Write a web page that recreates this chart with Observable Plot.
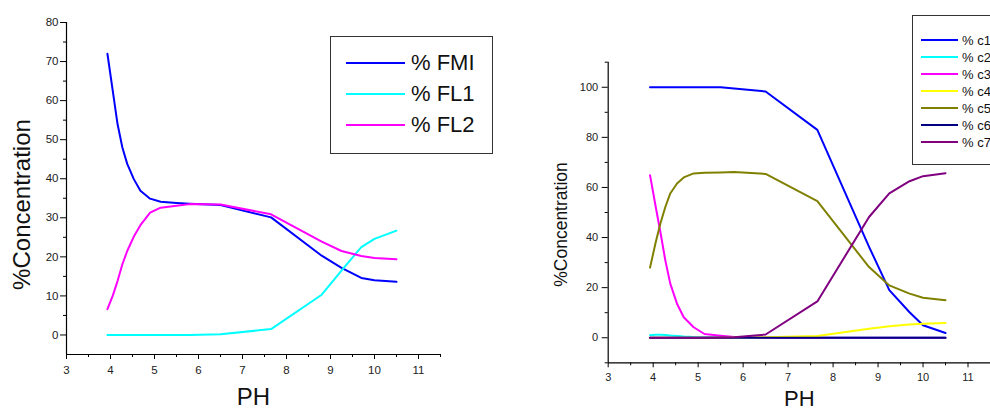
<!DOCTYPE html>
<html><head><meta charset="utf-8">
<script src="https://cdn.jsdelivr.net/npm/d3@7"></script>
<script src="https://cdn.jsdelivr.net/npm/@observablehq/plot@0.6"></script>
<style>
body{margin:0;background:#fff;font-family:Arial,"Liberation Sans",sans-serif;}
#wrap{position:relative;width:990px;height:411px;overflow:hidden;background:#fff;}
.chart{position:absolute;top:0;}
.legend{position:absolute;border:1px solid #333;background:#fff;box-sizing:border-box;}
.legend .row{position:absolute;display:flex;align-items:center;white-space:nowrap;color:#111;}
.legend .sw{display:inline-block;height:2px;}
</style></head><body><div id="wrap"></div>
<script>
// pH knots shared by both charts
const pH = [3.93, 4.05, 4.16, 4.27, 4.38, 4.53, 4.68, 4.9, 5.14, 5.5, 5.8, 6.5, 7.65, 8.8, 9.25, 9.7, 10.0, 10.5];

// Left chart series
const leftSeries = ["% FMI", "% FL1", "% FL2"];
const leftColors = ["#0000ff", "#00ffff", "#ff00ff"];
const FMI = [72, 62.6, 54, 48, 43.8, 39.9, 36.9, 34.9, 34.1, 33.8, 33.6, 33.3, 30.1, 20.3, 17.2, 14.6, 14.0, 13.6];
const FL1 = [0, 0, 0, 0, 0, 0, 0, 0, 0, 0, 0, 0.2, 1.5, 10.3, 16.5, 22.5, 24.6, 26.7];
const FL2 = [6.6, 10, 13.8, 18.1, 21.5, 25.2, 28.1, 31.3, 32.6, 33.1, 33.5, 33.4, 30.9, 23.9, 21.5, 20.2, 19.7, 19.4];
const leftValues = [FMI, FL1, FL2];
const leftYTicks = [0, 10, 20, 30, 40, 50, 60, 70, 80];
const leftYMinor = [5, 15, 25, 35, 45, 55, 65, 75];

// Right chart series
const rightSeries = ["% c1", "% c2", "% c3", "% c4", "% c5", "% c6", "% c7"];
const rightColors = ["#0000ff", "#00ffff", "#ff00ff", "#ffff00", "#808000", "#000080", "#800080"];
const c1 = [100, 100, 100, 100, 100, 100, 100, 100, 100, 100, 99.5, 98.3, 83, 36.3, 19, 10.2, 5, 1.9];
const c2 = [1, 1.2, 1.2, 1.1, 0.9, 0.7, 0.5, 0.3, 0.2, 0.1, 0, 0, 0, 0, 0, 0, 0, 0];
const c3 = [64.9, 52.9, 42.2, 30.9, 21.6, 13.6, 8.2, 4.2, 1.5, 0.8, 0.3, 0, 0, 0, 0, 0, 0, 0];
const c4 = [0, 0, 0, 0, 0, 0, 0, 0, 0, 0, 0.1, 0.2, 0.7, 3.6, 4.6, 5.3, 5.6, 5.9];
const c5 = [28, 37.6, 45.6, 52.2, 57.6, 61.6, 64, 65.6, 65.9, 66, 66.2, 65.4, 54.5, 28.2, 20.9, 17.6, 16, 15];
const c6 = [0, 0, 0, 0, 0, 0, 0, 0, 0, 0, 0, 0, 0, 0, 0, 0, 0, 0];
const c7 = [0, 0, 0, 0, 0, 0, 0, 0, 0, 0.1, 0.2, 1.3, 14.5, 48.2, 57.6, 62.5, 64.5, 65.7];
const rightValues = [c1, c2, c3, c4, c5, c6, c7];
const rightYTicks = [0, 20, 40, 60, 80, 100];
const rightYMinor = [-10, 10, 30, 50, 70, 90, 110];

const xTicks = [3, 4, 5, 6, 7, 8, 9, 10, 11];
const xMinor = [3.5, 4.5, 5.5, 6.5, 7.5, 8.5, 9.5, 10.5, 11.5];
const yLabel = "%Concentration";
const xLabel = "PH";

const FONT = "Arial, 'Liberation Sans', sans-serif";
const wrap = document.getElementById("wrap");

function tidy(series, values) {
  return series.flatMap((s, k) => pH.map((x, i) => ({pH: x, v: values[k][i], s})));
}

function chart(o) {
  const data = tidy(o.series, o.values);
  const svg = Plot.plot({
    width: o.width, height: 411,
    marginLeft: o.ml, marginRight: o.mr, marginTop: o.mt, marginBottom: o.mb,
    x: {domain: [3, 11.5]},
    y: {domain: o.ydomain},
    color: {domain: o.series, range: o.colors},
    style: {fontFamily: FONT, color: "#222", background: "transparent", overflow: "visible"},
    marks: [
      Plot.axisY({ticks: o.yticks, tickSize: 6, tickPadding: o.ytp, label: null, fontSize: o.tickFont, stroke: "#000"}),
      Plot.axisY({ticks: o.yminor, tickSize: 3, text: null, label: null, stroke: "#000"}),
      Plot.axisX({ticks: xTicks, tickSize: 5, tickPadding: o.xtp, label: null, fontSize: o.tickFont, stroke: "#000"}),
      Plot.axisX({ticks: xMinor, tickSize: 3, text: null, label: null, stroke: "#000"}),
      Plot.ruleX([3], {stroke: "#000", strokeWidth: 1.2}),
      Plot.ruleY([o.ydomain[0]], {stroke: "#000", strokeWidth: 1.2}),
      Plot.line(data, {x: "pH", y: "v", stroke: "s", strokeWidth: 2}),
      Plot.text([yLabel], {frameAnchor: "left", rotate: -90, dx: o.ylx, dy: o.yly, fontSize: o.ylFont, fill: "#111", textAnchor: "middle", lineAnchor: "middle"}),
      Plot.text([xLabel], {frameAnchor: "bottom", dx: 0, dy: o.xly, fontSize: o.xlFont, fill: "#111", lineAnchor: "top"})
    ]
  });
  svg.classList.add("chart");
  svg.style.left = o.left + "px";
  wrap.appendChild(svg);
}

chart({left: 0, width: 495, ml: 66, mr: 55, mt: 22, mb: 57, ydomain: [-5, 80],
  series: leftSeries, values: leftValues, colors: leftColors,
  yticks: leftYTicks, yminor: leftYMinor, ytp: 2, xtp: 6, tickFont: 11.5,
  ylx: -44, yly: 16, ylFont: 24, xly: 33, xlFont: 24});

chart({left: 540, width: 450, ml: 67.7, mr: 0, mt: 61.7, mb: 48.7, ydomain: [-10, 110],
  series: rightSeries, values: rightValues, colors: rightColors,
  yticks: rightYTicks, yminor: rightYMinor, ytp: 4, xtp: 5, tickFont: 11,
  ylx: -47, yly: 12, ylFont: 17.5, xly: 28, xlFont: 22});

function legend(o) {
  const box = document.createElement("div");
  box.className = "legend";
  Object.assign(box.style, {left: o.left + "px", top: o.top + "px", width: o.w + "px", height: o.h + "px"});
  o.series.forEach((s, i) => {
    const row = document.createElement("div");
    row.className = "row";
    Object.assign(row.style, {left: o.sx + "px", top: (o.y0 + i * o.dy - o.rh / 2) + "px", height: o.rh + "px", fontSize: o.font + "px"});
    const sw = document.createElement("span");
    sw.className = "sw";
    Object.assign(sw.style, {width: o.sw + "px", background: o.colors[i], marginRight: o.gap + "px"});
    const t = document.createElement("span");
    t.textContent = s;
    row.appendChild(sw); row.appendChild(t);
    box.appendChild(row);
  });
  wrap.appendChild(box);
}

legend({left: 330, top: 36, w: 163, h: 118, series: leftSeries, colors: leftColors,
  sx: 15, y0: 26, dy: 31, rh: 26, font: 22, sw: 59, gap: 6});
legend({left: 912, top: 15, w: 110, h: 150, series: rightSeries, colors: rightColors,
  sx: 8, y0: 24, dy: 17, rh: 17, font: 13, sw: 37, gap: 4});
</script>
</body></html>
